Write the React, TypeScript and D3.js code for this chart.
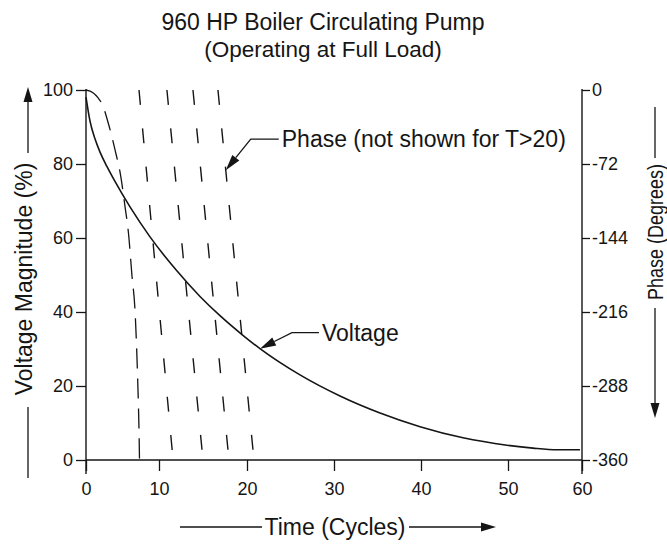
import { useEffect, useRef } from "react";
import * as d3 from "d3";

const W = 667;
const H = 547;
const FONT = "'Liberation Sans', Arial, Helvetica, sans-serif";

// axis ticks
const timeTicks = [0, 10, 20, 30, 40, 50, 60];
const voltTicks = [0, 20, 40, 60, 80, 100];
const phaseTicks = [0, -72, -144, -216, -288, -360];

// voltage magnitude decay
const voltTime = [0, 0.55, 1.23, 1.92, 2.88, 3.97, 6.03, 8.77, 11.93, 14.66, 16.93, 19.43, 21.49, 26.09, 30.69, 35.29, 39.89, 44.83, 49.89, 53.38, 56.62, 59.73];
const voltPct = [98.1, 91.6, 86.8, 83.2, 79.3, 75.3, 68.4, 60.3, 51.4, 44.2, 39.0, 33.9, 30.1, 23.0, 17.3, 12.7, 9.0, 6.0, 4.0, 3.2, 2.76, 2.76];

// first phase run, 0 down to -360
const phase1Time = [0, 0.96, 1.64, 2.19, 3.15, 3.97, 4.79, 5.34, 5.82, 6.3, 6.71, 6.92, 7.12, 7.26, 7.33];
const phase1Deg = [0, -2.6, -7.5, -13.5, -34.8, -58.1, -85.2, -113.2, -139.4, -181, -213.9, -247.8, -291.4, -330, -360];

// later wraps, each from 0 to -360
const wrapStart = [7.26, 10.9, 13.86, 16.7];
const wrapEnd = [11.6, 15.0, 17.95, 20.8];

export default function App() {
  const svgRef = useRef<SVGSVGElement>(null);

  useEffect(() => {
    if (!svgRef.current) return;
    const svg = d3.select(svgRef.current);
    svg.selectAll("*").remove();

    // the scan's time ticks are not evenly spaced
    const x = d3.scaleLinear().domain(timeTicks).range([86, 159, 247, 334, 421, 508, 582]);
    const yV = d3.scaleLinear().domain([0, 100]).range([460, 90]);
    const yP = d3.scaleLinear().domain([-360, 0]).range([460, 90]);

    const ink = "#151515";
    const g = svg.append("g").attr("font-family", FONT).attr("fill", ink);

    // title
    g.append("text").attr("x", 323).attr("y", 30).attr("text-anchor", "middle")
      .attr("font-size", 23).text("960 HP Boiler Circulating Pump");
    g.append("text").attr("x", 323).attr("y", 57).attr("text-anchor", "middle")
      .attr("font-size", 22.5).text("(Operating at Full Load)");

    // axes
    const styleAxis = (sel: d3.Selection<SVGGElement, unknown, null, undefined>) => {
      sel.select(".domain").remove();
      sel.selectAll("line").attr("stroke", ink).attr("stroke-width", 1.3);
      sel.selectAll("text").attr("fill", ink).attr("font-size", 18).attr("font-family", FONT);
    };

    g.append("g").attr("transform", `translate(${x(0)},0)`)
      .call(d3.axisLeft(yV).tickValues(voltTicks).tickSize(10).tickPadding(3))
      .call(styleAxis);
    g.append("g").attr("transform", `translate(${x(60)},0)`)
      .call(d3.axisRight(yP).tickValues(phaseTicks).tickSize(8).tickPadding(2).tickFormat((d) => String(d)))
      .call(styleAxis);
    g.append("g").attr("transform", `translate(0,${yV(0)})`)
      .call(d3.axisBottom(x).tickValues(timeTicks).tickSize(11).tickPadding(11))
      .call(styleAxis);

    const axisLine = (x1: number, y1: number, x2: number, y2: number) =>
      g.append("line").attr("x1", x1).attr("y1", y1).attr("x2", x2).attr("y2", y2)
        .attr("stroke", ink).attr("stroke-width", 1.4);
    axisLine(x(0), yV(100) - 1, x(0), yV(0) + 14);
    axisLine(x(60), yP(0) - 1, x(60), yP(-360) + 14);
    axisLine(x(0), yV(0), x(60), yV(0));

    // voltage curve
    const vLine = d3.line<number>()
      .x((_, i) => x(voltTime[i]))
      .y((d) => yV(d))
      .curve(d3.curveMonotoneX);
    g.append("path").attr("d", vLine(voltPct)).attr("fill", "none")
      .attr("stroke", ink).attr("stroke-width", 1.6);

    // phase runs (dashed)
    const pLine = d3.line<number>()
      .x((_, i) => x(phase1Time[i]))
      .y((d) => yP(d))
      .curve(d3.curveMonotoneX);
    g.append("path").attr("d", pLine(phase1Deg)).attr("fill", "none")
      .attr("stroke", ink).attr("stroke-width", 1.3).attr("stroke-dasharray", "20,10");

    wrapStart.forEach((t0, i) => {
      g.append("line")
        .attr("x1", x(t0)).attr("y1", yP(0))
        .attr("x2", x(wrapEnd[i])).attr("y2", yP(-360))
        .attr("stroke", ink).attr("stroke-width", 1.4)
        .attr("stroke-dasharray", "15,23.5");
    });

    // annotation: arrow + leader + text
    const annotate = (tx: number, ty: number, dx: number, dy: number, run: number, label: string) => {
      const ex = tx + dx, ey = ty + dy;
      const len = Math.hypot(dx, dy);
      const ux = dx / len, uy = dy / len;
      const hl = 16, hw = 4.5;
      const bx = tx + ux * hl, by = ty + uy * hl;
      g.append("path")
        .attr("d", `M${tx},${ty}L${bx - uy * hw},${by + ux * hw}L${bx + uy * hw},${by - ux * hw}Z`)
        .attr("fill", ink);
      g.append("path")
        .attr("d", `M${bx},${by}L${ex},${ey}L${ex + run},${ey}`)
        .attr("fill", "none").attr("stroke", ink).attr("stroke-width", 1.3);
      g.append("text").attr("x", ex + run + 3).attr("y", ey + 8)
        .attr("font-size", 23).text(label);
    };

    const p5x = d3.scaleLinear().domain([0, -360]).range([x(wrapStart[3]), x(wrapEnd[3])]);
    annotate(p5x(-78), yP(-78), 25, -31, 28, "Phase (not shown for T>20)");
    annotate(x(voltTime[12]), yV(voltPct[12]), 32, -16, 27, "Voltage");

    // axis titles with arrows
    const arrowHead = (px: number, py: number, dir: "up" | "down" | "right") => {
      const d =
        dir === "up" ? `M${px},${py}L${px - 4.5},${py + 15}L${px + 4.5},${py + 15}Z`
        : dir === "down" ? `M${px},${py}L${px - 4.5},${py - 15}L${px + 4.5},${py - 15}Z`
        : `M${px},${py}L${px - 15},${py - 4.5}L${px - 15},${py + 4.5}Z`;
      g.append("path").attr("d", d).attr("fill", ink);
    };

    // left
    g.append("text").attr("transform", "translate(32,279) rotate(-90)")
      .attr("text-anchor", "middle").attr("font-size", 23).text("Voltage Magnitude (%)");
    axisLine(28, 100, 28, 153).attr("stroke-width", 1.3);
    axisLine(28, 407, 28, 478).attr("stroke-width", 1.3);
    arrowHead(28, 87, "up");

    // right
    g.append("text").attr("transform", "translate(663,232) rotate(-90)")
      .attr("text-anchor", "middle").attr("font-size", 22)
      .attr("textLength", 136).attr("lengthAdjust", "spacingAndGlyphs")
      .text("Phase (Degrees)");
    axisLine(655, 107, 655, 158).attr("stroke-width", 1.3);
    axisLine(655, 308, 655, 405).attr("stroke-width", 1.3);
    arrowHead(655, 418, "down");

    // bottom
    g.append("text").attr("x", 335).attr("y", 535)
      .attr("text-anchor", "middle").attr("font-size", 23).text("Time (Cycles)");
    axisLine(180, 527, 262, 527).attr("stroke-width", 1.3);
    axisLine(409, 527, 482, 527).attr("stroke-width", 1.3);
    arrowHead(496, 527, "right");
  }, []);

  return (
    <svg
      ref={svgRef}
      width={W}
      height={H}
      style={{ position: "absolute", left: 0, top: 0, background: "#fff" }}
    />
  );
}
